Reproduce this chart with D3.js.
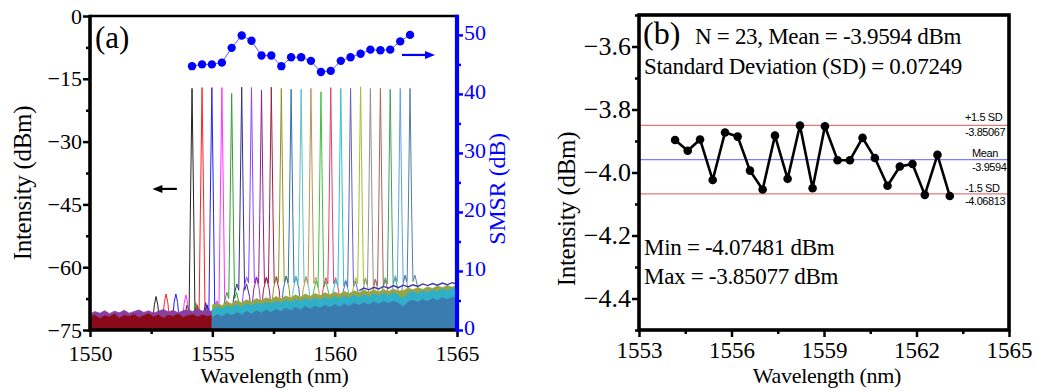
<!DOCTYPE html>
<html>
<head>
<meta charset="utf-8">
<script src="https://cdn.jsdelivr.net/npm/d3@7"></script>
<style>
  body { margin: 0; background: #fff; }
  svg { display: block; }
  .serif { font-family: 'Liberation Serif', 'Times New Roman', serif; }
  .sans { font-family: 'Liberation Sans', Arial, sans-serif; }
</style>
</head>
<body>
<svg id="chart" width="1038" height="391"></svg>
<script>
// ---------- data ----------
// lasing wavelengths of the 23 channels (nm)
const wavelengths = [1554.17, 1554.58, 1554.98, 1555.39, 1555.79, 1556.20, 1556.60, 1557.01, 1557.41, 1557.82,
  1558.22, 1558.63, 1559.03, 1559.44, 1559.84, 1560.25, 1560.65, 1561.06, 1561.46, 1561.87, 1562.27, 1562.68, 1563.08];
// side-mode suppression ratio of each channel (dB)
const smsr = [44.7, 45.0, 45.0, 45.3, 47.8, 49.9, 49.0, 46.5, 46.5, 44.7, 46.2, 46.2, 45.6, 43.7, 43.9, 45.6,
  46.2, 46.8, 47.5, 47.4, 47.5, 48.9, 50.0];
// spectrum peak power (dBm), pedestal level and first side-mode level (dBm)
const peakPower = [-17.3, -17.1, -17.1, -17.1, -18.5, -17.0, -17.1, -17.7, -17.0, -17.3, -17.5, -17.5, -17.3,
  -18.1, -17.1, -17.3, -17.3, -16.9, -17.3, -17.3, -17.5, -17.3, -17.3];
const pedestal = [-69, -69, -69, -68, -66, -64, -62.3, -62.4, -62.4, -62.1, -62.2, -62.2, -62.4, -63.3, -62.5,
  -63.0, -63.3, -62.5, -62.8, -63.0, -62.5, -62.0, -61.9];
const sideMode = [-67.0, -66.4, -66.4, -66.6, -68.5, -68.5, -68.5, -68.5, -68, -68, -68, -68, -68, -68, -68,
  -68, -68, -68, -68, -68, -68, -68, -68];
const traceColors = ["#222222", "#ff2020", "#2020ff", "#ff30ff", "#30a030", "#303090", "#9040ff", "#902090",
  "#a02040", "#909020", "#3070b0", "#60c0c0", "#c09050", "#40c040", "#e04070", "#30c0d0", "#6060c0",
  "#a0c030", "#909090", "#b06060", "#40a060", "#60a0e0", "#5080a0"];

// noise floor envelopes, sampled every 0.2 nm
const floorLeftStart = 1550;
const wineTop = [-72.0, -71.4, -72.3, -71.6, -71.9, -71.2, -72.2, -71.5, -71.8, -71.3, -72.1, -71.6, -71.1,
  -71.9, -71.4, -72.2, -71.5, -71.8, -71.2, -72.0, -71.6, -71.3, -71.9, -71.4, -71.8, -71.5];
const violetTop = [-71.2, -70.6, -71.0, -70.4, -71.1, -70.5, -70.9, -70.3, -71.0, -70.6, -70.2, -70.8, -70.4,
  -71.0, -70.5, -70.1, -70.7, -70.3, -70.9, -70.4, -70.2, -70.6, -70.0, -70.5, -70.3, -70.6];
const floorRightStart = 1555;
const oliveTop = [-69.0, -68.6, -69.2, -68.3, -68.8, -68.0, -68.5, -67.8, -68.3, -67.5, -68.0, -67.3, -67.8,
  -67.0, -67.6, -66.9, -67.4, -66.6, -67.2, -66.4, -67.0, -66.3, -66.8, -66.1, -66.6, -65.9, -66.5, -65.8,
  -66.3, -65.6, -66.1, -65.5, -66.0, -65.4, -65.9, -65.3, -65.8, -65.2, -65.7, -65.6, -65.0, -65.4, -64.9,
  -65.3, -64.7, -65.1, -64.5, -64.9, -64.4, -64.8, -64.3];
const tealTop = [-70.2, -69.4, -70.0, -69.2, -69.7, -68.9, -69.5, -68.7, -69.2, -68.5, -69.0, -68.3, -68.8,
  -68.1, -68.6, -67.9, -68.4, -67.7, -68.2, -67.5, -68.0, -67.3, -67.9, -67.2, -67.7, -67.0, -67.6, -66.9,
  -67.4, -66.7, -67.2, -66.5, -67.1, -66.4, -66.9, -66.2, -66.8, -66.1, -66.7, -67.5, -66.2, -65.8, -66.4,
  -65.6, -66.1, -65.4, -65.9, -65.2, -65.7, -65.0, -65.5];
const steelTop = [-72.0, -71.3, -71.8, -71.0, -71.6, -70.8, -71.4, -70.6, -71.2, -70.4, -71.0, -70.2, -70.8,
  -70.0, -70.6, -69.8, -70.4, -69.6, -70.2, -69.4, -70.0, -69.3, -69.8, -69.1, -69.6, -68.9, -69.5, -68.8,
  -69.3, -68.6, -69.1, -68.5, -69.0, -68.3, -68.8, -68.2, -68.7, -68.1, -68.6, -69.5, -68.3, -67.9, -68.4,
  -67.7, -68.2, -67.5, -68.0, -67.3, -67.8, -67.2, -67.6];
const navyStart = 1561;
const navyTrace = [-65.6, -65.0, -65.4, -64.8, -65.2, -64.6, -65.0, -64.4, -64.9, -64.3, -64.7, -64.2, -64.6,
  -64.0, -64.4, -63.9, -64.3, -63.8, -64.2, -63.7, -64.0];

// measured output power of each channel (dBm)
const powerB = [-3.897, -3.931, -3.895, -4.024, -3.873, -3.886, -3.994, -4.054, -3.883, -4.020, -3.85077,
  -4.050, -3.853, -3.961, -3.961, -3.890, -3.954, -4.042, -3.981, -3.973, -4.071, -3.944, -4.07481];
const nPoints = 23;
const meanB = -3.9594;
const sdB = 0.07249;
const upperB = -3.85067;
const lowerB = -4.06813;
const minB = -4.07481;
const maxB = -3.85077;

// ticks
const ticksAx = [1550, 1555, 1560, 1565];
const minorAx = [1552.5, 1557.5, 1562.5];
const ticksAy = [0, -15, -30, -45, -60, -75];
const minorAy = [-7.5, -22.5, -37.5, -52.5, -67.5];
const ticksAy2 = [0, 10, 20, 30, 40, 50];
const minorAy2 = [5, 15, 25, 35, 45];
const ticksBx = [1553, 1556, 1559, 1562, 1565];
const minorBx = [1554.5, 1557.5, 1560.5, 1563.5];
const ticksBy = [-3.6, -3.8, -4.0, -4.2, -4.4];
const minorBy = [-3.5, -3.7, -3.9, -4.1, -4.3, -4.5];

// ---------- drawing ----------
const svg = d3.select("#chart");
const defs = svg.append("defs");

function styleAxis(g, color, size, width) {
  g.attr("font-family", null).attr("class", "serif").style("font-size", size + "px");
  g.select(".domain").remove();
  g.selectAll(".tick line").attr("stroke", color).attr("stroke-width", width);
  g.selectAll(".tick text").attr("fill", color);
}
function label(x, y, size, str, opts = {}) {
  const t = svg.append("text").attr("class", opts.cls || "serif").style("font-size", size + "px")
    .attr("fill", opts.fill || "#000").text(str);
  if (opts.rotate) t.attr("transform", `translate(${x},${y}) rotate(-90)`);
  else t.attr("x", x).attr("y", y);
  if (opts.anchor) t.attr("text-anchor", opts.anchor);
  if (opts.spacing !== undefined) t.style("letter-spacing", opts.spacing + "px");
  return t;
}

// ===== panel (a): lasing spectra and SMSR =====
const xA = d3.scaleLinear().domain([1550, 1565]).range([90, 457]);
const yA = d3.scaleLinear().domain([-75, 0]).range([330, 16]);
const yA2 = d3.scaleLinear().domain([0, 53.2]).range([330, 16]);

defs.append("clipPath").attr("id", "clipA").append("rect")
  .attr("x", xA(1550)).attr("y", yA(0)).attr("width", xA(1565) - xA(1550)).attr("height", yA(-75) - yA(0));

const plotA = svg.append("g").attr("clip-path", "url(#clipA)");

// one spectrum: floor, first side mode, pedestal and lasing peak
function spectrum(i) {
  const c = wavelengths[i], P = peakPower[i], Pd = pedestal[i], S = sideMode[i], F = -73.5;
  return [[c - 2.0, F], [c - 1.62, F], [c - 1.54, S - 2], [c - 1.47, S], [c - 1.40, S - 2], [c - 1.32, F],
    [c - 0.45, F], [c - 0.32, Pd - 3], [c - 0.2, Pd], [c - 0.12, Pd - 1.5], [c - 0.07, P - 30], [c, P],
    [c + 0.07, P - 30], [c + 0.12, Pd - 1.5], [c + 0.2, Pd], [c + 0.32, Pd - 3], [c + 0.45, F], [c + 2.0, F]];
}
const lineA = d3.line().x(d => xA(d[0])).y(d => yA(d[1]));
plotA.selectAll("path.trace").data(wavelengths.map((w, i) => i)).join("path")
  .attr("class", "trace")
  .attr("d", i => lineA(spectrum(i)))
  .attr("fill", "none")
  .attr("stroke", i => traceColors[i])
  .attr("stroke-width", 1)
  .attr("stroke-linejoin", "round");

// noise floor
const areaA = d3.area().x(d => xA(d[0])).y0(yA(-75)).y1(d => yA(d[1]));
const gridded = (start, vals) => vals.map((v, k) => [start + 0.2 * k, v]);
const floorLayers = [
  [floorLeftStart, violetTop, "#8a3f9e"],
  [floorLeftStart, wineTop, "#8b0a1a"],
  [floorRightStart, oliveTop, "#98a444"],
  [floorRightStart, tealTop, "#2fb0c8"],
  [floorRightStart, steelTop, "#3a7cb0"]
];
floorLayers.forEach(([s, vals, col]) => {
  plotA.append("path").attr("d", areaA(gridded(s, vals))).attr("fill", col).attr("stroke", col)
    .attr("stroke-width", 0.8).attr("stroke-linejoin", "round");
});
plotA.append("path").attr("d", lineA(gridded(navyStart, navyTrace)))
  .attr("fill", "none").attr("stroke", "#3a3aa8").attr("stroke-width", 1.4);

// SMSR points
const smsrPts = wavelengths.map((w, i) => [w, smsr[i]]);
svg.append("path")
  .attr("d", d3.line().x(d => xA(d[0])).y(d => yA2(d[1]))(smsrPts))
  .attr("fill", "none").attr("stroke", "#3030ff").attr("stroke-width", 1).attr("opacity", 0.8);
svg.selectAll("circle.smsr").data(smsrPts).join("circle")
  .attr("class", "smsr")
  .attr("cx", d => xA(d[0])).attr("cy", d => yA2(d[1])).attr("r", 4.2).attr("fill", "#0000ff");

// axes of panel (a)
const axAx = svg.append("g").attr("transform", `translate(0,${yA(-75)})`)
  .call(d3.axisBottom(xA).tickValues(ticksAx).tickSize(7).tickPadding(8).tickFormat(d3.format("d")));
styleAxis(axAx, "#000", 22, 2.5);
const axAxm = svg.append("g").attr("transform", `translate(0,${yA(-75)})`)
  .call(d3.axisBottom(xA).tickValues(minorAx).tickSize(4).tickFormat(""));
styleAxis(axAxm, "#000", 22, 2.5);

const axAy = svg.append("g").attr("transform", `translate(${xA(1550)},0)`)
  .call(d3.axisLeft(yA).tickValues(ticksAy).tickSize(7).tickPadding(1).tickFormat(d3.format("d")));
styleAxis(axAy, "#000", 22, 2.5);
const axAym = svg.append("g").attr("transform", `translate(${xA(1550)},0)`)
  .call(d3.axisLeft(yA).tickValues(minorAy).tickSize(4).tickFormat(""));
styleAxis(axAym, "#000", 22, 2.5);

const axAy2 = svg.append("g").attr("transform", `translate(${xA(1565)},0)`)
  .call(d3.axisRight(yA2).tickValues(ticksAy2).tickSize(6).tickPadding(1).tickFormat(d3.format("d")));
styleAxis(axAy2, "#0000ff", 22, 2.5);
axAy2.selectAll(".tick text").attr("dy", "0.22em");
const axAy2m = svg.append("g").attr("transform", `translate(${xA(1565)},0)`)
  .call(d3.axisRight(yA2).tickValues(minorAy2).tickSize(4).tickFormat(""));
styleAxis(axAy2m, "#0000ff", 22, 2.5);

// frame of panel (a)
svg.append("line").attr("x1", xA(1550)).attr("x2", xA(1565) + 1).attr("y1", yA(0)).attr("y2", yA(0))
  .attr("stroke", "#000").attr("stroke-width", 2.6);
svg.append("line").attr("x1", xA(1550)).attr("x2", xA(1550)).attr("y1", yA(0) - 1.3).attr("y2", yA(-75) + 1.8)
  .attr("stroke", "#000").attr("stroke-width", 3.6);
svg.append("line").attr("x1", xA(1550)).attr("x2", xA(1565)).attr("y1", yA(-75)).attr("y2", yA(-75))
  .attr("stroke", "#000").attr("stroke-width", 3.6);
svg.append("line").attr("x1", xA(1565)).attr("x2", xA(1565)).attr("y1", yA(0) - 1.3).attr("y2", yA(-75) + 1.8)
  .attr("stroke", "#0000ff").attr("stroke-width", 4.2);

// axis titles of panel (a)
label((xA(1550) + xA(1565)) / 2 + 1, 383, 22, "Wavelength (nm)", { anchor: "middle", spacing: -0.3 });
label(31, 183, 25, "Intensity (dBm)", { anchor: "middle", rotate: true, spacing: -0.3 });
label(505, 189, 24, "SMSR (dB)", { anchor: "middle", rotate: true, fill: "#0000ff", spacing: -0.3 });
label(95, 48, 31, "(a)");

// axis pointers
function arrow(x1, y1, x2, color) {
  const dir = Math.sign(x2 - x1);
  svg.append("line").attr("x1", x1).attr("y1", y1).attr("x2", x2 - dir * 6).attr("y2", y1)
    .attr("stroke", color).attr("stroke-width", 2.2);
  svg.append("path").attr("d", `M${x2},${y1}L${x2 - dir * 10},${y1 - 4}L${x2 - dir * 10},${y1 + 4}Z`)
    .attr("fill", color);
}
arrow(xA(1553.55), yA(-41.3), xA(1552.55), "#000");
arrow(xA(1562.75), yA2(46.6), xA(1564.1), "#0000ff");

// ===== panel (b): channel power uniformity =====
const xB = d3.scaleLinear().domain([1553, 1565]).range([639, 1009]);
const yB = d3.scaleLinear().domain([-4.5, -3.5]).range([330, 15]);

// control lines
[[upperB, "#e87878"], [meanB, "#7c7cff"], [lowerB, "#e87878"]].forEach(([v, col]) => {
  svg.append("line").attr("x1", xB(1553)).attr("x2", xB(1565)).attr("y1", yB(v)).attr("y2", yB(v))
    .attr("stroke", col).attr("stroke-width", 1.3);
});

const ptsB = wavelengths.map((w, i) => [w, powerB[i]]);
svg.append("path").attr("d", d3.line().x(d => xB(d[0])).y(d => yB(d[1]))(ptsB))
  .attr("fill", "none").attr("stroke", "#000").attr("stroke-width", 2.6).attr("stroke-linejoin", "miter");
svg.selectAll("circle.pb").data(ptsB).join("circle").attr("class", "pb")
  .attr("cx", d => xB(d[0])).attr("cy", d => yB(d[1])).attr("r", 4.3).attr("fill", "#000");

// axes of panel (b)
const axBx = svg.append("g").attr("transform", `translate(0,${yB(-4.5)})`)
  .call(d3.axisBottom(xB).tickValues(ticksBx).tickSize(7).tickPadding(5).tickFormat(d3.format("d")));
styleAxis(axBx, "#000", 23, 2.5);
const axBxm = svg.append("g").attr("transform", `translate(0,${yB(-4.5)})`)
  .call(d3.axisBottom(xB).tickValues(minorBx).tickSize(4).tickFormat(""));
styleAxis(axBxm, "#000", 23, 2.5);
const axBy = svg.append("g").attr("transform", `translate(${xB(1553)},0)`)
  .call(d3.axisLeft(yB).tickValues(ticksBy).tickSize(7).tickPadding(1).tickFormat(d3.format(".1f")));
styleAxis(axBy, "#000", 26, 2.5);
const axBym = svg.append("g").attr("transform", `translate(${xB(1553)},0)`)
  .call(d3.axisLeft(yB).tickValues(minorBy).tickSize(4).tickFormat(""));
styleAxis(axBym, "#000", 26, 2.5);

// frame of panel (b)
svg.append("rect").attr("x", xB(1553)).attr("y", yB(-3.5)).attr("width", xB(1565) - xB(1553))
  .attr("height", yB(-4.5) - yB(-3.5)).attr("fill", "none").attr("stroke", "#000").attr("stroke-width", 3.6);

// axis titles of panel (b)
label((xB(1553) + xB(1565)) / 2 + 3, 383, 22, "Wavelength (nm)", { anchor: "middle", spacing: -0.3 });
label(575, 209, 25, "Intensity (dBm)", { anchor: "middle", rotate: true, spacing: -0.3 });

// statistics annotations
label(643, 44, 32, "(b)");
label(695, 44, 23, `N = ${nPoints}, Mean = ${meanB} dBm`, { spacing: -0.3 });
label(644, 74, 23, `Standard Deviation (SD) = ${sdB}`, { spacing: -0.3 });
label(644, 255, 23, `Min = ${minB} dBm`, { spacing: -0.3 });
label(644, 284, 23, `Max = ${maxB} dBm`, { spacing: -0.3 });

// control line labels
const small = (x, y, str) => label(x, y, 11, str, { cls: "sans", spacing: -0.4 });
small(965, yB(upperB) - 4, "+1.5 SD");
small(965, yB(upperB) + 11, upperB.toFixed(5));
small(972, yB(meanB) - 3, "Mean");
small(972, yB(meanB) + 11, meanB.toFixed(4));
small(965, yB(lowerB) - 2, "-1.5 SD");
small(965, yB(lowerB) + 11, lowerB.toFixed(5));
</script>
</body>
</html>
